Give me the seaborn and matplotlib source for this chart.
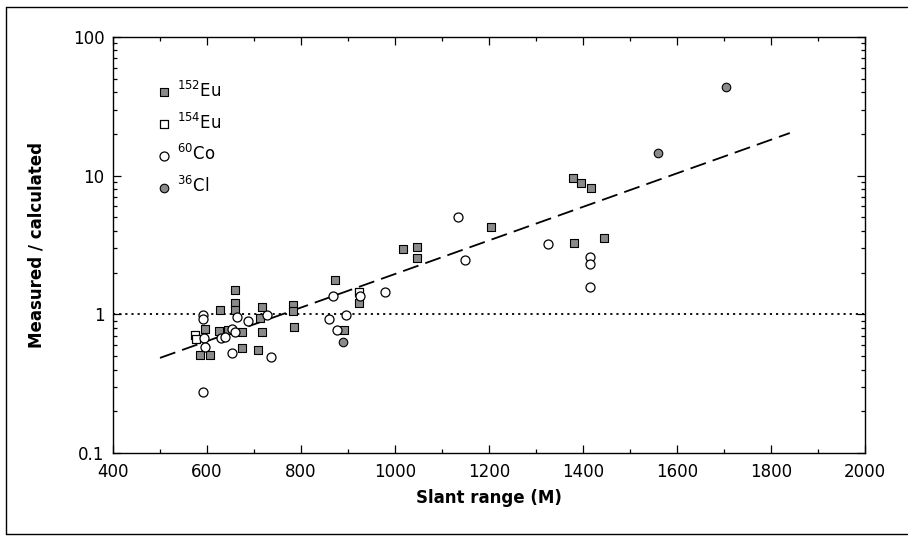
import numpy as np
import pandas as pd
import seaborn as sns
import matplotlib.pyplot as plt
from matplotlib.lines import Line2D
from matplotlib.ticker import MultipleLocator, LogLocator, NullFormatter, FixedLocator

eu152_x = [585, 606, 596, 626, 645, 628, 660, 660, 660, 674, 674, 708, 713, 717, 717,
           783, 783, 785, 872, 891, 923, 1017, 1047, 1047, 1204, 1379, 1396, 1417, 1381, 1445]
eu152_y = [0.51, 0.51, 0.78, 0.76, 0.77, 1.07, 1.50, 1.20, 1.08, 0.75, 0.57, 0.55, 0.94, 1.13, 0.75,
           1.16, 1.06, 0.81, 1.77, 0.77, 1.21, 2.96, 3.06, 2.55, 4.27, 9.6, 8.85, 8.15, 3.27, 3.56]

eu154_x = [574, 576, 923]
eu154_y = [0.71, 0.66, 1.45]

co60_x = [591, 591, 593, 596, 591, 630, 638, 653, 660, 653, 664, 687, 728, 736, 860,
          868, 877, 896, 925, 979, 1134, 1149, 1325, 1415, 1415, 1415]
co60_y = [0.99, 0.93, 0.68, 0.58, 0.275, 0.68, 0.69, 0.78, 0.74, 0.53, 0.96, 0.90, 0.99, 0.49, 0.93,
          1.35, 0.77, 0.99, 1.35, 1.45, 5.03, 2.47, 3.23, 2.60, 2.31, 1.57]

cl36_x = [889, 1560, 1704]
cl36_y = [0.63, 14.6, 43.6]

# linha de tendencia (tracejada) e referencia em 1
fit_x = [500, 1840]
fit_y = [0.485, 20.3]
ref_x = [400, 2000]
ref_y = [1, 1]

sns.set_style("ticks")
plt.rcParams['font.family'] = ['DejaVu Sans']
plt.rcParams['text.color'] = 'black'
plt.rcParams['axes.labelcolor'] = 'black'
plt.rcParams['xtick.color'] = 'black'
plt.rcParams['ytick.color'] = 'black'

fig = plt.figure(figsize=(9.13, 5.36), dpi=100)
ax = fig.add_axes([113 / 913, 1 - 453 / 536, 752 / 913, 416 / 536])

cinza = '#8a8a8a'
sns.lineplot(x=ref_x, y=ref_y, ax=ax, color='black', lw=1.3, linestyle=(0, (1.2, 2.2)))
sns.lineplot(x=fit_x, y=fit_y, ax=ax, color='black', lw=1.3, linestyle=(0, (9, 4)))

sns.scatterplot(x=eu152_x, y=eu152_y, ax=ax, marker='s', s=34, color=cinza,
                edgecolor='black', linewidth=0.8, label='$^{152}$Eu', zorder=3)
sns.scatterplot(x=eu154_x, y=eu154_y, ax=ax, marker='s', s=34, color='white',
                edgecolor='black', linewidth=0.9, label='$^{154}$Eu', zorder=3)
sns.scatterplot(x=co60_x, y=co60_y, ax=ax, marker='o', s=42, color='white',
                edgecolor='black', linewidth=0.9, label='$^{60}$Co', zorder=4)
sns.scatterplot(x=cl36_x, y=cl36_y, ax=ax, marker='o', s=38, color=cinza,
                edgecolor='black', linewidth=0.8, label='$^{36}$Cl', zorder=4)

ax.set_yscale('log')
ax.set_xlim(400, 2000)
ax.set_ylim(0.1, 100)

ax.xaxis.set_major_locator(MultipleLocator(200))
ax.xaxis.set_minor_locator(MultipleLocator(100))
ax.yaxis.set_major_locator(FixedLocator([0.1, 1, 10, 100]))
ax.yaxis.set_minor_locator(LogLocator(base=10, subs=np.arange(2, 10)))
ax.yaxis.set_minor_formatter(NullFormatter())
ax.set_yticklabels(['0.1', '1', '10', '100'])

ax.tick_params(which='both', direction='in', top=True, right=True,
               labelsize=12, width=0.9)
ax.tick_params(axis='x', pad=7)
ax.tick_params(axis='y', pad=6)
ax.tick_params(which='major', length=6)
ax.tick_params(which='minor', length=3)
for s in ax.spines.values():
    s.set_linewidth(1.0)
    s.set_color('black')

ax.set_xlabel('Slant range (M)', fontsize=12, fontweight='bold', labelpad=6)
ax.set_ylabel('Measured / calculated', fontsize=12, fontweight='bold', labelpad=20)

leg = ax.legend(loc='upper left', bbox_to_anchor=(0.045, 0.915), frameon=False,
                fontsize=12, handletextpad=0.3, labelspacing=0.7, borderpad=0,
                handlelength=1.0)

# moldura externa da figura
W, H = 913, 536
for (x0, y0, x1, y1) in [(6, 7, 6, 534), (6, 7, 907, 7), (6, 534, 907, 534)]:
    fig.add_artist(Line2D([x0 / W, x1 / W], [1 - y0 / H, 1 - y1 / H],
                          transform=fig.transFigure, color='black', lw=1.0))

plt.savefig('out.png', dpi=100)
plt.close()
